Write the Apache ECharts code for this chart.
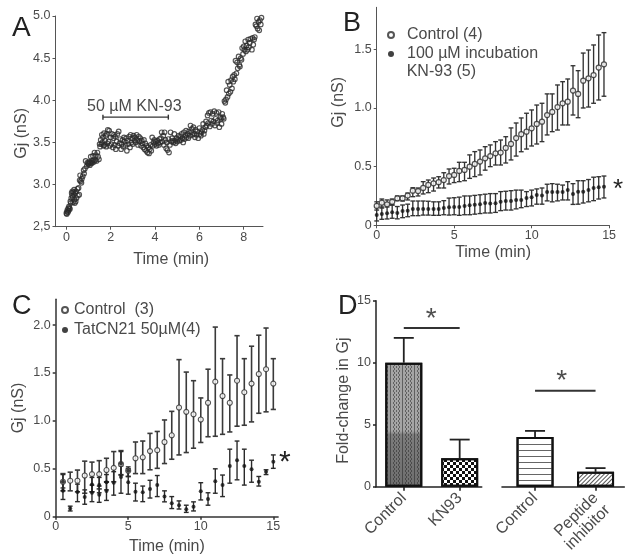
<!DOCTYPE html>
<html><head><meta charset="utf-8">
<style>html,body{margin:0;padding:0;background:#fff}#c{width:632px;height:559px}</style>
<script src="https://cdn.jsdelivr.net/npm/echarts@6/dist/echarts.min.js"></script>
</head><body><div id="c"></div>
<script>
// Panel A
const timeA=[0,.02,.03,.05,.07,.09,.1,.12,.14,.16,.18,.2,.22,.24,.26,.27,.29,.3,.32,.34,.35,.36,.38,.4,.42,.44,.46,.5,.52,.55,.58,.6,.62,.65,.68,.7,.74,.78,.8,.84,.87,.92,.95,.98,1,1.03,1.06,1.08,1.1,1.12,1.15,1.17,1.2,1.22,1.25,1.27,1.3,1.33,1.36,1.4,1.43,1.47,1.5,1.52,1.55,1.58,1.6,1.62,1.65,1.68,1.7,1.72,1.75,1.78,1.8,1.82,1.85,1.87,1.9,1.93,1.96,2,2.03,2.06,2.1,2.12,2.15,2.18,2.2,2.23,2.27,2.3,2.33,2.36,2.4,2.43,2.47,2.5,2.53,2.57,2.6,2.63,2.67,2.7,2.73,2.77,2.8,2.83,2.87,2.9,2.93,2.97,3,3.03,3.07,3.1,3.13,3.17,3.2,3.23,3.27,3.3,3.33,3.37,3.4,3.43,3.47,3.5,3.53,3.56,3.6,3.63,3.66,3.7,3.73,3.76,3.8,3.83,3.87,3.9,3.93,3.97,4,4.03,4.07,4.1,4.13,4.17,4.2,4.23,4.27,4.3,4.33,4.37,4.4,4.43,4.47,4.5,4.53,4.56,4.6,4.63,4.67,4.7,4.73,4.77,4.8,4.83,4.87,4.9,4.93,4.97,5,5.03,5.07,5.1,5.13,5.17,5.2,5.23,5.27,5.3,5.33,5.37,5.4,5.43,5.47,5.5,5.53,5.57,5.6,5.63,5.67,5.7,5.73,5.77,5.8,5.83,5.87,5.9,5.95,6,6.03,6.07,6.1,6.13,6.17,6.2,6.23,6.27,6.3,6.33,6.37,6.4,6.43,6.47,6.5,6.53,6.57,6.6,6.63,6.67,6.7,6.73,6.77,6.8,6.83,6.87,6.9,6.95,6.98,7,7.03,7.07,7.1,7.13,7.17,7.2,7.23,7.27,7.3,7.33,7.37,7.4,7.43,7.47,7.5,7.53,7.57,7.6,7.63,7.67,7.7,7.73,7.77,7.8,7.83,7.87,7.9,7.93,7.97,8,8.03,8.07,8.1,8.13,8.17,8.2,8.23,8.27,8.3,8.37,8.4,8.43,8.47,8.5,8.53,8.57,8.6,8.63,8.67,8.7,8.73,8.77,8.8];
const gjA=[2.66,2.65,2.68,2.7,2.67,2.72,2.69,2.74,2.72,2.71,2.8,2.78,2.84,2.9,2.87,2.92,2.85,2.79,2.91,2.88,2.94,2.82,2.78,2.9,2.8,2.92,2.84,2.95,2.87,2.96,2.88,3.05,3.11,3.04,3.02,3.07,3.1,3.17,3.13,3.19,3.28,3.22,3.26,3.25,3.24,3.27,3.23,3.26,3.33,3.25,3.28,3.26,3.34,3.29,3.27,3.38,3.29,3.35,3.28,3.38,3.33,3.3,3.48,3.45,3.53,3.48,3.59,3.5,3.56,3.46,3.61,3.47,3.52,3.58,3.45,3.6,3.49,3.65,3.51,3.64,3.46,3.56,3.48,3.6,3.44,3.55,3.59,3.47,3.57,3.42,3.51,3.6,3.46,3.63,3.49,3.54,3.42,3.48,3.53,3.45,3.56,3.51,3.47,3.55,3.4,3.52,3.48,3.57,3.44,3.59,3.5,3.55,3.48,3.58,3.52,3.56,3.5,3.59,3.53,3.47,3.57,3.51,3.55,3.46,3.52,3.49,3.44,3.53,3.42,3.49,3.4,3.46,3.38,3.44,3.37,3.42,3.47,3.4,3.56,3.46,3.5,3.53,3.48,3.51,3.46,3.52,3.49,3.47,3.54,3.5,3.55,3.62,3.51,3.58,3.47,3.62,3.53,3.43,3.5,3.41,3.54,3.38,3.47,3.62,3.51,3.55,3.52,3.5,3.6,3.52,3.49,3.55,3.51,3.54,3.58,3.52,3.57,3.53,3.6,3.55,3.5,3.62,3.54,3.58,3.64,3.56,3.6,3.55,3.63,3.58,3.7,3.62,3.66,3.59,3.68,3.6,3.56,3.65,3.59,3.63,3.55,3.67,3.6,3.58,3.62,3.65,3.72,3.6,3.64,3.68,3.75,3.7,3.82,3.73,3.85,3.69,3.86,3.76,3.72,3.84,3.75,3.87,3.7,3.78,3.85,3.73,3.76,3.86,3.68,3.8,3.78,3.72,3.84,3.8,3.78,3.99,3.97,4.01,4.12,4.04,4.22,4.08,4.18,4.1,4.24,4.14,4.28,4.22,4.3,4.25,4.47,4.32,4.45,4.38,4.52,4.42,4.4,4.5,4.48,4.62,4.55,4.64,4.6,4.7,4.58,4.65,4.6,4.72,4.63,4.68,4.73,4.6,4.74,4.66,4.72,4.75,4.9,4.88,4.97,4.85,4.93,4.83,4.95,4.9,4.98,4.92,4.94,4.99,4.93,4.97];
const kn93Label='50 µM KN-93', kn93Span=[1.65,4.6], kn93Level=3.8;
const ticksA_y=[2.5,3,3.5,4,4.5,5], ticksA_yLabels=['2,5','3.0','3.5','4.0','4.5','5.0'], ticksA_x=[0,2,4,6,8];
// Panel B
const timeB=[0,.33,.67,1,1.33,1.67,2,2.33,2.67,3,3.33,3.67,4,4.33,4.67,5,5.33,5.67,6,6.33,6.67,7,7.33,7.67,8,8.33,8.67,9,9.33,9.67,10,10.33,10.67,11,11.33,11.67,12,12.33,12.67,13,13.33,13.67,14,14.33,14.67];
const ctrlB=[.165,.193,.179,.2,.23,.23,.253,.295,.292,.318,.344,.358,.367,.386,.42,.429,.463,.472,.5,.523,.543,.571,.59,.614,.62,.659,.693,.744,.777,.798,.827,.864,.883,.94,.966,1.008,1.04,1.054,1.148,1.12,1.233,1.253,1.28,1.344,1.372];
const ctrlBLow=[.13,.147,.156,.173,.21,.207,.216,.244,.25,.267,.278,.292,.318,.318,.352,.364,.372,.38,.4,.415,.429,.47,.5,.514,.514,.531,.557,.59,.627,.65,.676,.693,.713,.77,.798,.812,.855,.855,.94,.917,1,1.008,1.04,1.068,1.1];
const ctrlBHigh=[.2,.224,.216,.224,.25,.25,.275,.32,.318,.372,.386,.403,.414,.448,.48,.486,.537,.537,.6,.628,.642,.67,.685,.713,.727,.755,.83,.872,.915,.955,.983,1.025,1.04,1.12,1.12,1.196,1.224,1.247,1.36,1.318,1.468,1.494,1.537,1.622,1.642];
const knB=[.088,.096,.102,.111,.105,.122,.125,.139,.139,.139,.139,.139,.139,.148,.153,.155,.155,.165,.17,.175,.18,.19,.185,.188,.2,.207,.207,.216,.216,.233,.24,.258,.253,.284,.284,.284,.284,.3,.267,.285,.287,.3,.318,.324,.329];
const knBLow=[.037,.051,.054,.06,.055,.065,.073,.082,.082,.087,.087,.085,.085,.09,.087,.09,.085,.09,.09,.095,.1,.105,.105,.11,.125,.13,.13,.14,.15,.16,.165,.18,.18,.208,.2,.208,.216,.216,.178,.18,.19,.2,.21,.224,.233];
const knBHigh=[.156,.156,.173,.173,.16,.173,.18,.207,.207,.207,.205,.2,.2,.21,.232,.235,.24,.25,.25,.255,.26,.265,.27,.27,.287,.29,.295,.3,.3,.287,.3,.31,.318,.35,.355,.35,.343,.372,.355,.38,.38,.39,.41,.414,.42];
// Panel C
const timeC=[.5,1,1.5,2,2.5,3,3.5,4,4.5,5,5.5,6,6.5,7,7.5,8,8.5,9,9.5,10,10.5,11,11.5,12,12.5,13,13.5,14,14.5,15];
const ctrlC=[.365,.376,.376,.43,.445,.445,.487,.51,.55,.48,.61,.62,.685,.695,.78,.85,1.14,1.095,1.07,1.015,1.19,1.41,1.26,1.19,1.42,1.3,1.39,1.49,1.54,1.39];
const ctrlCLow=[.27,.27,.26,.245,.26,.29,.365,.365,.435,.42,.45,.45,.49,.505,.555,.6,.645,.67,.715,.775,.835,.84,.86,.885,.945,.955,.99,1.08,1.095,1.12];
const ctrlCHigh=[.45,.465,.487,.58,.57,.585,.61,.68,.69,.5,.78,.79,.87,.89,1.01,1.1,1.64,1.51,1.42,1.24,1.54,1.98,1.65,1.48,1.89,1.65,1.78,1.895,1.97,1.65];
const timeTat=[.5,.5,1,1.5,2,2.5,2.5,3,3,3.5,3.5,4,4.5,4.5,5,5,5.5,6,6.5,7,7.5,8,8.5,9,9.5,10,10.5,11,11.5,12,12.5,13,13.5,14,14.5,15];
const tat=[.365,.27,.085,.257,.205,.335,.25,.33,.23,.36,.268,.355,.555,.415,.48,.36,.26,.255,.29,.33,.21,.14,.12,.077,.105,.265,.185,.37,.33,.53,.59,.53,.495,.365,.47,.575];
const tatLow=[.3,.18,.06,.157,.13,.26,.157,.25,.15,.28,.17,.225,.44,.245,.42,.235,.164,.157,.195,.21,.155,.085,.08,.045,.06,.175,.12,.245,.21,.35,.385,.33,.36,.32,.44,.505];
const tatHigh=[.44,.36,.11,.34,.28,.41,.33,.41,.32,.44,.36,.47,.68,.53,.52,.48,.35,.32,.38,.43,.27,.21,.165,.12,.155,.355,.25,.5,.435,.705,.79,.705,.59,.42,.49,.645];
// Panel D
const groupsD1=['Control','KN93'], groupsD2=['Control','\nPeptide\ninhibitor'];
const meanD1=[10,2.3], topD1=[12,3.8], meanD2=[4,1.2], topD2=[4.5,1.5];
const sigD1=12.8, sigD2=7.74;

const ink='#4a4a4a', dark='#222', font='"Liberation Sans",Arial,sans-serif';
const chart=echarts.init(document.getElementById('c'));

function zip(...a){return a[0].map((_,i)=>a.map(x=>x[i]));}
function whisker(color,lw,capHalf){
  return function(p,api){
    const x=api.value(0), lo=api.coord([x,api.value(1)]), hi=api.coord([x,api.value(2)]);
    const s={stroke:color,lineWidth:lw};
    return {type:'group',children:[
      {type:'line',shape:{x1:lo[0],y1:lo[1],x2:hi[0],y2:hi[1]},style:s},
      {type:'line',shape:{x1:lo[0]-capHalf,y1:lo[1],x2:lo[0]+capHalf,y2:lo[1]},style:s},
      {type:'line',shape:{x1:hi[0]-capHalf,y1:hi[1],x2:hi[0]+capHalf,y2:hi[1]},style:s}
    ]};
  };
}
function xAx(i,min,max,ticks,opts={}){
  const c=opts.color||'#555', lw=opts.lw||1;
  return Object.assign({type:'value',gridIndex:i,min,max,position:'bottom',
    axisLine:{show:true,onZero:false,lineStyle:{color:c,width:lw}},
    axisTick:{show:true,length:opts.tick||3,customValues:ticks,lineStyle:{color:c,width:lw}},
    axisLabel:{show:true,customValues:ticks,color:ink,fontFamily:font,fontSize:opts.fs||12.5,margin:opts.margin||5,
      formatter:opts.fmt||(v=>String(v))},
    splitLine:{show:false}},opts.extra||{});
}
function yAx(i,min,max,ticks,opts={}){
  const c=opts.color||'#555', lw=opts.lw||1;
  return Object.assign({type:'value',gridIndex:i,min,max,position:'left',
    axisLine:{show:true,onZero:false,lineStyle:{color:c,width:lw}},
    axisTick:{show:true,length:opts.tick||3,customValues:ticks,lineStyle:{color:c,width:lw}},
    axisLabel:{show:true,customValues:ticks,color:ink,fontFamily:font,fontSize:opts.fs||12.5,margin:opts.margin||5,
      formatter:opts.fmt||(v=>String(v))},
    splitLine:{show:false}},opts.extra||{});
}
const nameSt=(pad)=>({color:ink,fontFamily:font,fontSize:16,padding:pad||0});
const fmt1=v=>v===0?'0':v.toFixed(1);
const fmtA=v=>ticksA_yLabels[ticksA_y.indexOf(v)];

const option={
  animation:false,
  backgroundColor:'#fff',
  title:[
    {text:'A',left:7,top:9,textStyle:{color:'#222',fontFamily:font,fontSize:28,fontWeight:'normal'}},
    {text:'B',left:338,top:5,textStyle:{color:'#222',fontFamily:font,fontSize:27,fontWeight:'normal'}},
    {text:'C',left:7,top:288,textStyle:{color:'#222',fontFamily:font,fontSize:27,fontWeight:'normal'}},
    {text:'D',left:333,top:288,textStyle:{color:'#222',fontFamily:font,fontSize:27,fontWeight:'normal'}}
  ],
  legend:[
    {data:['Control (4)','100 µM incubation\nKN-93 (5)'],left:387,top:27,orient:'vertical',itemWidth:22,itemHeight:6,itemGap:3,selectedMode:false,
     padding:0,formatter:n=>n.split('\n')[0],textStyle:{color:ink,fontFamily:font,fontSize:16}},
    {data:['Control  (3)','TatCN21 50µM(4)'],left:61,top:302,orient:'vertical',itemWidth:8,itemHeight:6,itemGap:4,selectedMode:false,
     padding:0,textStyle:{color:ink,fontFamily:font,fontSize:16}}
  ],
  graphic:[
    {type:'text',left:406.7,top:64,style:{text:'KN-93 (5)',fill:ink,font:'16px '+font}},
    {type:'text',left:613,top:176.5,style:{text:'*',fill:'#222',font:'26px '+font}},
    {type:'text',left:279,top:448,style:{text:'*',fill:'#222',font:'30px '+font}},
    {type:'text',left:87,top:99,style:{text:kn93Label,fill:ink,font:'16px '+font}}
  ],
  grid:[
    {left:55.5,top:16,width:207.5,height:210.7},
    {left:376.7,top:7.3,width:232.7,height:218},
    {left:55.7,top:299.3,width:222.4,height:217.4},
    {left:376,top:300.7,width:105.7,height:186},
    {left:502,top:300.7,width:122.3,height:186}
  ],
  xAxis:[
    xAx(0,-0.49,8.87,ticksA_x,{margin:4,extra:{name:'Time (min)',nameLocation:'middle',nameGap:25,nameTextStyle:nameSt([0,0,0,24])}}),
    xAx(1,0,15.02,[0,5,10,15],{margin:4,extra:{name:'Time (min)',nameLocation:'middle',nameGap:19,nameTextStyle:nameSt()}}),
    xAx(2,0,15.33,[0,5,10,15],{color:'#333',lw:1.5,margin:3,extra:{name:'Time (min)',nameLocation:'middle',nameGap:22,nameTextStyle:nameSt()}}),
    xAx(3,-0.497,1.394,[0,1],{color:dark,lw:1.6,tick:4,fs:16,margin:9,fmt:v=>groupsD1[v],extra:{}}),
    xAx(4,-0.546,1.475,[0,1],{color:dark,lw:1.6,tick:4,fs:16,margin:9,fmt:v=>groupsD2[v],extra:{}})
  ],
  yAxis:[
    yAx(0,2.5,5,ticksA_y,{fmt:fmtA,extra:{name:'Gj (nS)',nameLocation:'middle',nameGap:26,nameTextStyle:nameSt([0,24,0,0])}}),
    yAx(1,0,1.858,[0,.5,1,1.5],{fmt:fmt1,extra:{name:'Gj (nS)',nameLocation:'middle',nameGap:30,nameTextStyle:nameSt([0,0,0,28])}}),
    yAx(2,0,2.27,[0,.5,1,1.5,2],{color:'#333',lw:1.5,fmt:fmt1,extra:{name:'Gj (nS)',nameLocation:'middle',nameGap:29,nameTextStyle:nameSt()}}),
    yAx(3,0,15,[0,5,10,15],{color:dark,lw:1.5,extra:{name:'Fold-change in Gj',nameLocation:'middle',nameGap:24,nameTextStyle:nameSt([0,14,0,0])}}),
    {type:'value',gridIndex:4,min:0,max:15,show:false}
  ],
  series:[
    {type:'scatter',xAxisIndex:0,yAxisIndex:0,data:zip(timeA,gjA),symbol:'circle',symbolSize:4.6,
      itemStyle:{color:'rgba(255,255,255,0)',borderColor:'#2a2a2a',borderWidth:1.15}},
    {type:'custom',xAxisIndex:0,yAxisIndex:0,renderItem(p,api){
      const a=api.coord([api.value(0),kn93Level]), b=api.coord([api.value(1),kn93Level]);
      const s={stroke:'#333',lineWidth:1.4};
      return {type:'group',children:[
        {type:'line',shape:{x1:a[0],y1:a[1],x2:b[0],y2:b[1]},style:s},
        {type:'line',shape:{x1:a[0],y1:a[1]-2.5,x2:a[0],y2:a[1]+2.5},style:s},
        {type:'line',shape:{x1:b[0],y1:b[1]-2.5,x2:b[0],y2:b[1]+2.5},style:s}]};
    },data:[kn93Span],silent:true},

    {type:'custom',xAxisIndex:1,yAxisIndex:1,renderItem:whisker('#333',1.35,2.4),data:zip(timeB,ctrlBLow,ctrlBHigh),silent:true,z:2},
    {type:'custom',xAxisIndex:1,yAxisIndex:1,renderItem:whisker('#333',1.35,2.4),data:zip(timeB,knBLow,knBHigh),silent:true,z:2},
    {type:'scatter',name:'Control (4)',xAxisIndex:1,yAxisIndex:1,data:zip(timeB,ctrlB),symbolSize:5,z:3,
      itemStyle:{color:'#fff',borderColor:'#2a2a2a',borderWidth:1.25}},
    {type:'scatter',name:'100 µM incubation\nKN-93 (5)',xAxisIndex:1,yAxisIndex:1,data:zip(timeB,knB),symbolSize:4,z:3,
      itemStyle:{color:'#111'}},

    {type:'custom',xAxisIndex:2,yAxisIndex:2,renderItem:whisker('#3a3a3a',1.6,2.6),data:zip(timeC,ctrlCLow,ctrlCHigh),silent:true,z:2},
    {type:'custom',xAxisIndex:2,yAxisIndex:2,renderItem:whisker('#2a2a2a',1.4,2.4),data:zip(timeTat,tatLow,tatHigh),silent:true,z:2},
    {type:'scatter',name:'Control  (3)',xAxisIndex:2,yAxisIndex:2,data:zip(timeC,ctrlC),symbolSize:5,z:3,
      itemStyle:{color:'#fff',borderColor:'#2a2a2a',borderWidth:1.1}},
    {type:'scatter',name:'TatCN21 50µM(4)',xAxisIndex:2,yAxisIndex:2,data:zip(timeTat,tat),symbolSize:4,z:4,
      itemStyle:{color:'#111'}},

    {type:'bar',xAxisIndex:3,yAxisIndex:3,barWidth:37,z:2,data:[
      {value:[0,meanD1[0]],itemStyle:{
        color:{type:'linear',x:0,y:0,x2:0,y2:1,colorStops:[{offset:0,color:'#a5a5a5'},{offset:.55,color:'#a5a5a5'},{offset:.58,color:'#7c7c7c'},{offset:1,color:'#6e6e6e'}]},
        borderColor:'#111',borderWidth:2,
        decal:{symbol:'rect',symbolSize:1,dashArrayX:[[1,2],[0,1.5,1,.5]],dashArrayY:[1.5,0],color:'rgba(40,40,40,.55)'}}},
      {value:[1,meanD1[1]],itemStyle:{color:'#fff',borderColor:'#111',borderWidth:2,
        decal:{symbol:'rect',symbolSize:1,dashArrayX:[[3,3],[0,3,3,0]],dashArrayY:[3,0],color:'#111'}}}
    ]},
    {type:'custom',xAxisIndex:3,yAxisIndex:3,renderItem(p,api){
      const a=api.coord([api.value(0),api.value(1)]), b=api.coord([api.value(0),api.value(2)]);
      const s={stroke:dark,lineWidth:1.8};
      return {type:'group',children:[
        {type:'line',shape:{x1:a[0],y1:a[1],x2:b[0],y2:b[1]},style:s},
        {type:'line',shape:{x1:b[0]-10,y1:b[1],x2:b[0]+10,y2:b[1]},style:s}]};
    },data:groupsD1.map((_,i)=>[i,meanD1[i],topD1[i]]),silent:true},
    {type:'line',xAxisIndex:3,yAxisIndex:3,data:[[0,sigD1],[1,sigD1]],symbol:'none',lineStyle:{color:'#333',width:2},silent:true},
    {type:'scatter',xAxisIndex:3,yAxisIndex:3,data:[[.49,sigD1]],symbolSize:0,silent:true,
      label:{show:true,position:'top',distance:-5,formatter:'*',fontFamily:font,fontSize:28,color:'#222'}},

    {type:'bar',xAxisIndex:4,yAxisIndex:4,barWidth:37,z:2,data:[
      {value:[0,meanD2[0]],itemStyle:{color:'#fff',borderColor:'#111',borderWidth:2,
        decal:{symbol:'rect',symbolSize:1,dashArrayX:[1,0],dashArrayY:[1,4.3],color:'#666'}}},
      {value:[1,meanD2[1]],itemStyle:{color:'#fff',borderColor:'#111',borderWidth:2,
        decal:{symbol:'rect',symbolSize:1,rotation:-Math.PI/4,dashArrayX:[1,0],dashArrayY:[1,1.6],color:'#555'}}}
    ]},
    {type:'custom',xAxisIndex:4,yAxisIndex:4,renderItem(p,api){
      const a=api.coord([api.value(0),api.value(1)]), b=api.coord([api.value(0),api.value(2)]);
      const s={stroke:dark,lineWidth:1.8};
      return {type:'group',children:[
        {type:'line',shape:{x1:a[0],y1:a[1],x2:b[0],y2:b[1]},style:s},
        {type:'line',shape:{x1:b[0]-10,y1:b[1],x2:b[0]+10,y2:b[1]},style:s}]};
    },data:groupsD2.map((_,i)=>[i,meanD2[i],topD2[i]]),silent:true},
    {type:'line',xAxisIndex:4,yAxisIndex:4,data:[[0,sigD2],[1,sigD2]],symbol:'none',lineStyle:{color:'#333',width:2},silent:true},
    {type:'scatter',xAxisIndex:4,yAxisIndex:4,data:[[.44,sigD2]],symbolSize:0,silent:true,
      label:{show:true,position:'top',distance:-5,formatter:'*',fontFamily:font,fontSize:28,color:'#222'}}
  ]
};
// rotated category-style labels in panel D
[3,4].forEach(i=>{Object.assign(option.xAxis[i].axisLabel,{rotate:45,lineHeight:17});});
chart.setOption(option);
</script></body></html>
